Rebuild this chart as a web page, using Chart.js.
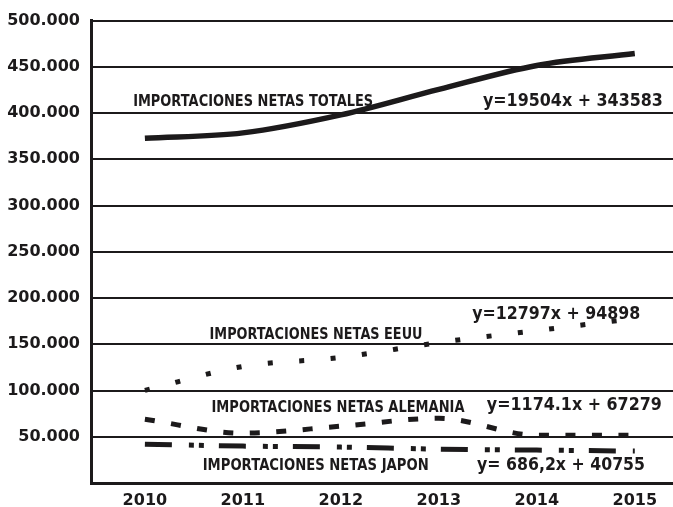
<!DOCTYPE html>
<html>
<head>
<meta charset="utf-8">
<script src="https://cdn.jsdelivr.net/npm/chart.js@4"></script>
<style>
  html, body { margin: 0; padding: 0; background: #fff; }
  #wrap { width: 673px; height: 507px; }
</style>
</head>
<body>
<div id="wrap"><canvas id="chart" width="673" height="507"></canvas></div>
<script>
// años (eje X)
const years = [2010, 2011, 2012, 2013, 2014, 2015];

// valores
const totales  = [372800, 378600, 398000, 425600, 451500, 464400];
const eeuu     = [100200, 126000, 135800, 151900, 164900, 177800];
const alemania = [69000, 53900, 61400, 70000, 51700, 51700];
const japon    = [42000, 39900, 38800, 36600, 35600, 34500];

// ticks del eje Y
const yTicks = [0, 50000, 100000, 150000, 200000, 250000, 300000, 350000, 400000, 450000, 500000];

// etiquetas de texto dentro del gráfico
const labelTexts = [
  'IMPORTACIONES NETAS TOTALES', 'y=19504x + 343583',
  'IMPORTACIONES NETAS EEUU', 'y=12797x + 94898',
  'IMPORTACIONES NETAS ALEMANIA', 'y=1174.1x + 67279',
  'IMPORTACIONES NETAS JAPON', 'y= 686,2x + 40755'
];

const ink = '#1c1a1b';

const toPoints = (vals) => vals.map((v, i) => ({ x: years[i], y: v }));

// posición de cada texto en unidades del gráfico (año, valor en la línea base)
const capsFont = 'bold 15px "DejaVu Sans"';
const eqFont = 'bold 17px "DejaVu Sans"';
const labelPlacement = [
  { x: 2009.88, y: 407300, w: 240, font: capsFont },
  { x: 2013.45, y: 407300, w: 180, font: eqFont },
  { x: 2010.66, y: 156200, w: 213, font: capsFont },
  { x: 2013.34, y: 177800, w: 168, font: eqFont },
  { x: 2010.68, y: 76500,  w: 253, font: capsFont },
  { x: 2013.49, y: 78700,  w: 175, font: eqFont },
  { x: 2010.59, y: 14000,  w: 226, font: capsFont },
  { x: 2013.39, y: 14000,  w: 168, font: eqFont }
];

const textPlugin = {
  id: 'textLabels',
  afterDatasetsDraw(chart) {
    const { ctx, scales } = chart;
    ctx.save();
    ctx.fillStyle = ink;
    ctx.textAlign = 'left';
    ctx.textBaseline = 'alphabetic';
    labelTexts.forEach((t, i) => {
      const p = labelPlacement[i];
      ctx.font = p.font;
      const px = scales.x.getPixelForValue(p.x);
      const py = scales.y.getPixelForValue(p.y);
      const natural = ctx.measureText(t).width;
      // ajustar el texto al ancho medido en la referencia
      ctx.save();
      ctx.translate(px, py);
      ctx.scale(p.w / natural, 1);
      ctx.fillText(t, 0, 0);
      ctx.restore();
    });
    ctx.restore();
  }
};

const ctx = document.getElementById('chart').getContext('2d');

new Chart(ctx, {
  type: 'line',
  data: {
    datasets: [
      {
        label: 'Totales',
        data: toPoints(totales),
        borderColor: ink,
        borderWidth: 5.5,
        borderCapStyle: 'butt',
        cubicInterpolationMode: 'monotone',
        pointRadius: 0
      },
      {
        label: 'EEUU',
        data: toPoints(eeuu),
        borderColor: ink,
        borderWidth: 5,
        borderDash: [5, 26.5],
        borderCapStyle: 'butt',
        cubicInterpolationMode: 'monotone',
        pointRadius: 0
      },
      {
        label: 'Alemania',
        data: toPoints(alemania),
        borderColor: ink,
        borderWidth: 5,
        borderDash: [10, 16.5],
        borderCapStyle: 'butt',
        cubicInterpolationMode: 'monotone',
        pointRadius: 0
      },
      {
        label: 'Japon',
        data: toPoints(japon),
        borderColor: ink,
        borderWidth: 5,
        borderDash: [27, 17, 5, 5, 5, 15],
        borderCapStyle: 'butt',
        cubicInterpolationMode: 'monotone',
        pointRadius: 0
      }
    ]
  },
  options: {
    responsive: false,
    animation: false,
    layout: { padding: { top: 19, right: 0, left: 0, bottom: 0 } },
    plugins: {
      legend: { display: false },
      tooltip: { enabled: false }
    },
    scales: {
      x: {
        type: 'linear',
        min: 2009.45,
        max: 2015.39,
        afterBuildTicks: (scale) => { scale.ticks = years.map(v => ({ value: v })); },
        afterFit: (scale) => { scale.height = 24; },
        grid: { display: false, drawTicks: false },
        border: { display: true, color: ink, width: 3 },
        ticks: {
          color: ink,
          padding: 8,
          font: { family: '"DejaVu Sans"', size: 16, weight: 'bold' },
          callback: (v) => String(v)
        }
      },
      y: {
        min: 0,
        max: 500000,
        afterBuildTicks: (scale) => { scale.ticks = yTicks.map(v => ({ value: v })); },
        afterFit: (scale) => { scale.width = 91; },
        grid: { color: ink, lineWidth: 2, drawTicks: false },
        border: { display: true, color: ink, width: 3 },
        ticks: {
          color: ink,
          padding: 11,
          font: { family: '"DejaVu Sans"', size: 16, weight: 'bold' },
          callback: (v) => v === 0 ? '' : v.toLocaleString('de-DE', { minimumFractionDigits: 0 })
        }
      }
    }
  },
  plugins: [textPlugin]
});
</script>
</body>
</html>
